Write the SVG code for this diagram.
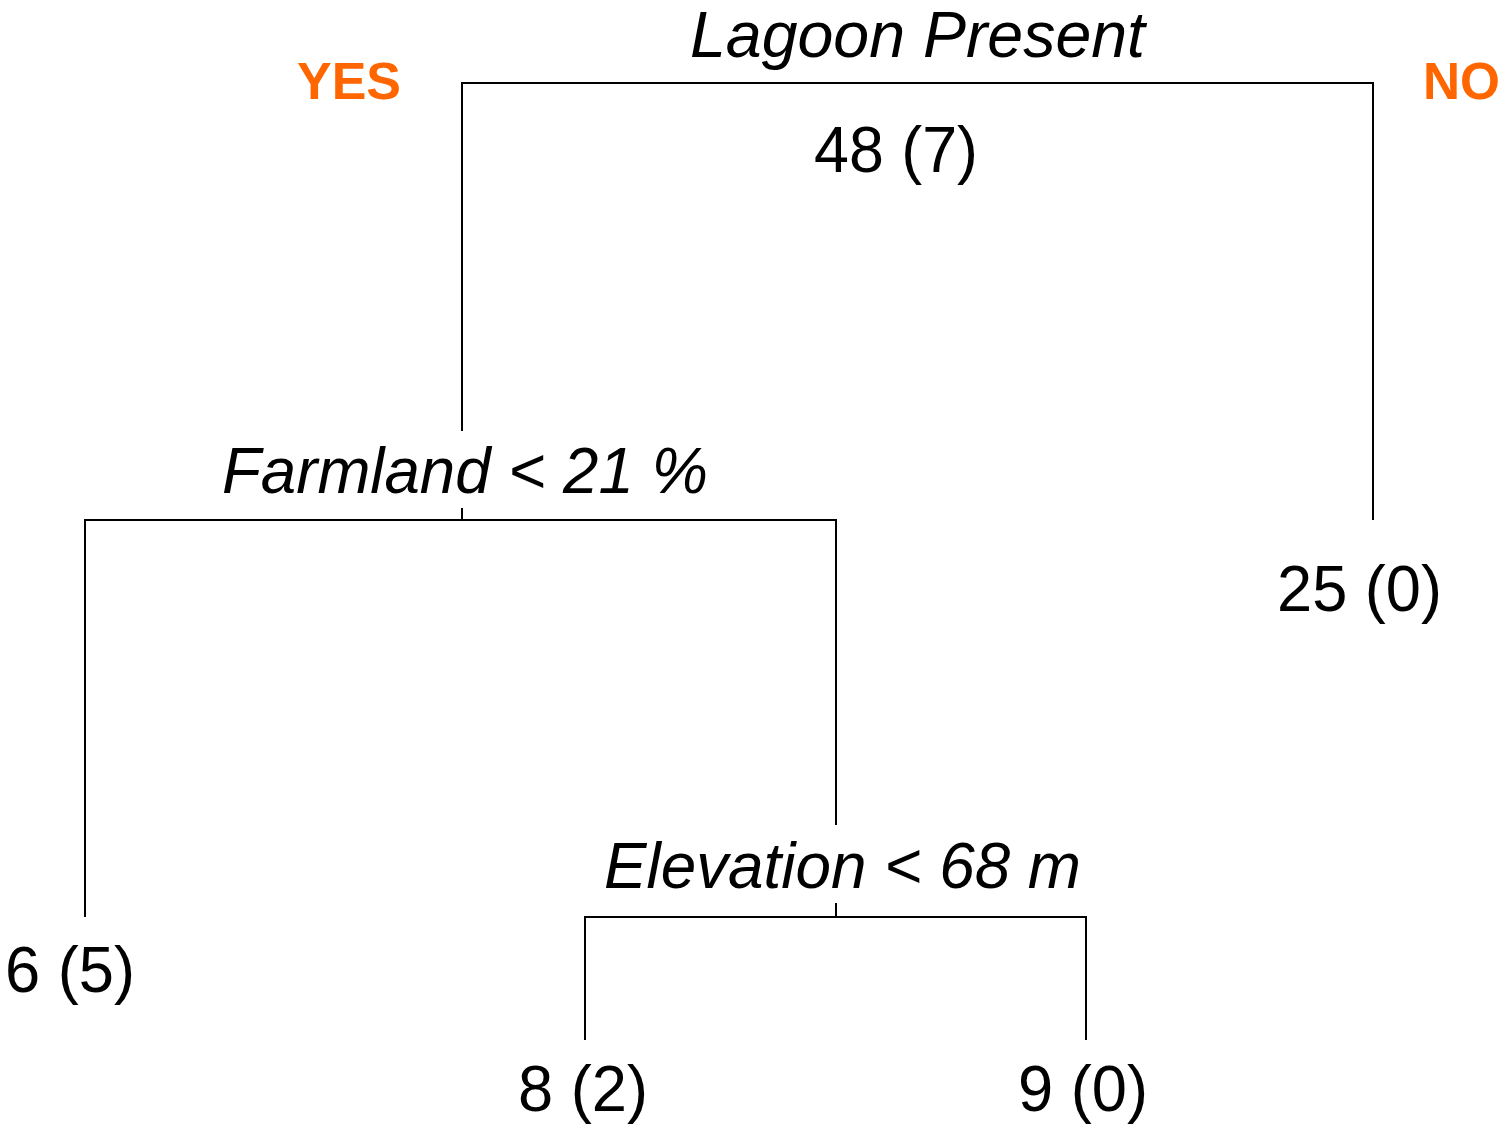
<svg xmlns="http://www.w3.org/2000/svg" width="1508" height="1124" viewBox="0 0 1508 1124">
<style>
  .bg { fill: #ffffff; }
  .edge { stroke: #000000; stroke-width: 2; fill: none; stroke-linecap: butt; }
  .split { font-family: "Liberation Sans", Arial, sans-serif; font-style: italic; font-size: 64px; fill: #000000; }
  .count { font-family: "Liberation Sans", Arial, sans-serif; font-size: 64px; fill: #000000; }
  .side { font-family: "Liberation Sans", Arial, sans-serif; font-weight: bold; font-size: 52px; fill: #FF6600; }
</style>
<rect class="bg" x="0" y="0" width="1508" height="1124"/>
<g id="connectors">
  <path class="edge" d="M462,431 V83 H1373 V520"/>
  <path class="edge" d="M462,508 V520"/>
  <path class="edge" d="M836,825 V520 H85 V917"/>
  <path class="edge" d="M836,903 V917"/>
  <path class="edge" d="M585,1040 V917 H1086 V1040"/>
</g>
<g id="labels-side">
  <text class="side" x="297" y="99" textLength="104" lengthAdjust="spacingAndGlyphs">YES</text>
  <text class="side" x="1423" y="99" textLength="77" lengthAdjust="spacingAndGlyphs">NO</text>
</g>
<g id="node-root">
  <text class="split" x="690" y="57" textLength="455" lengthAdjust="spacingAndGlyphs">Lagoon Present</text>
  <text class="count" x="814" y="172" textLength="164" lengthAdjust="spacingAndGlyphs">48 (7)</text>
</g>
<g id="node-farmland">
  <text class="split" x="222" y="493" textLength="486" lengthAdjust="spacingAndGlyphs">Farmland &lt; 21 %</text>
</g>
<g id="node-no">
  <text class="count" x="1277" y="611" textLength="165" lengthAdjust="spacingAndGlyphs">25 (0)</text>
</g>
<g id="node-elevation">
  <text class="split" x="604" y="888" textLength="477" lengthAdjust="spacingAndGlyphs">Elevation &lt; 68 m</text>
</g>
<g id="node-leaf-6">
  <text class="count" x="5" y="992" textLength="130" lengthAdjust="spacingAndGlyphs">6 (5)</text>
</g>
<g id="node-leaf-8">
  <text class="count" x="518" y="1111" textLength="130" lengthAdjust="spacingAndGlyphs">8 (2)</text>
</g>
<g id="node-leaf-9">
  <text class="count" x="1018" y="1111" textLength="130" lengthAdjust="spacingAndGlyphs">9 (0)</text>
</g>
</svg>
